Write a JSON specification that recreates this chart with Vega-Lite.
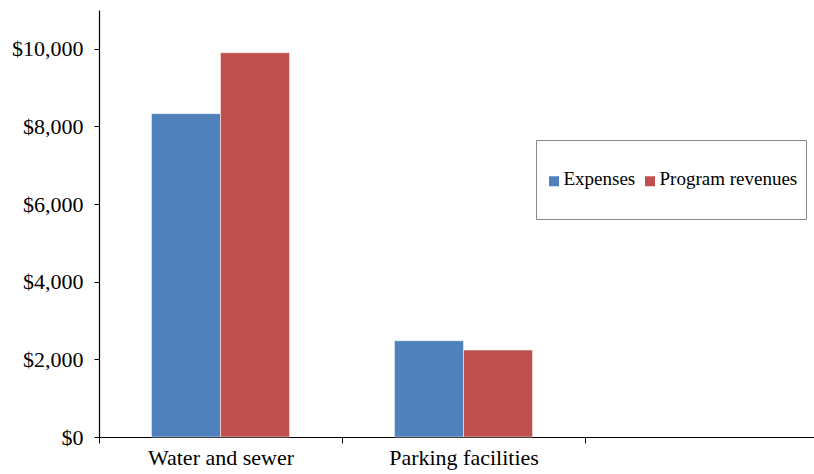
{
  "$schema": "https://vega.github.io/schema/vega-lite/v6.json",
  "width": 715,
  "height": 427,
  "autosize": "none",
  "padding": {"left": 99, "top": 10, "right": 0, "bottom": 37},
  "background": "white",
  "config": {
    "view": {"stroke": null},
    "font": "Liberation Serif",
    "axis": {"grid": false, "domainColor": "black", "tickColor": "black", "labelColor": "black", "labelFont": "Liberation Serif", "title": null}
  },
  "data": {
    "values": [
      {"category": "Water and sewer", "series": "Expenses", "value": 8330},
      {"category": "Water and sewer", "series": "Program revenues", "value": 9900},
      {"category": "Parking facilities", "series": "Expenses", "value": 2480},
      {"category": "Parking facilities", "series": "Program revenues", "value": 2240}
    ]
  },
  "mark": {"type": "bar", "stroke": "white", "strokeWidth": 0.5},
  "encoding": {
    "x": {
      "field": "category",
      "type": "nominal",
      "sort": null,
      "scale": {"domain": ["Water and sewer", "Parking facilities", " "], "range": [0, 729], "paddingInner": 0, "paddingOuter": 0},
      "axis": {"labelAngle": 0, "labelFontSize": 22, "tickSize": 6, "labelPadding": 4, "tickBand": "extent", "domainWidth": 1.2}
    },
    "xOffset": {
      "field": "series",
      "type": "nominal",
      "scale": {"paddingInner": 0, "paddingOuter": 0.76}
    },
    "y": {
      "field": "value",
      "type": "quantitative",
      "scale": {"domain": [0, 11000], "nice": false},
      "axis": {"values": [0, 2000, 4000, 6000, 8000, 10000], "format": "$,.0f", "labelFontSize": 22, "tickSize": 5, "labelPadding": 11, "domainWidth": 1.2}
    },
    "color": {
      "field": "series",
      "type": "nominal",
      "scale": {"domain": ["Expenses", "Program revenues"], "range": ["#4F81BD", "#C0504D"]},
      "legend": {
        "title": null,
        "orient": "none",
        "legendX": 437,
        "legendY": 130,
        "direction": "horizontal",
        "symbolType": "M-1,3.6H1V5.6H-1Z",
        "symbolSize": 100,
        "symbolStrokeWidth": 0,
        "labelFontSize": 19,
        "labelFont": "Liberation Serif",
        "labelColor": "black",
        "labelOffset": 0,
        "columnPadding": 5,
        "padding": 8.5,
        "strokeColor": "#888888",
        "labelLimit": 300,
        "labelExpr": "['', datum.label, '']"
      }
    }
  }
}
